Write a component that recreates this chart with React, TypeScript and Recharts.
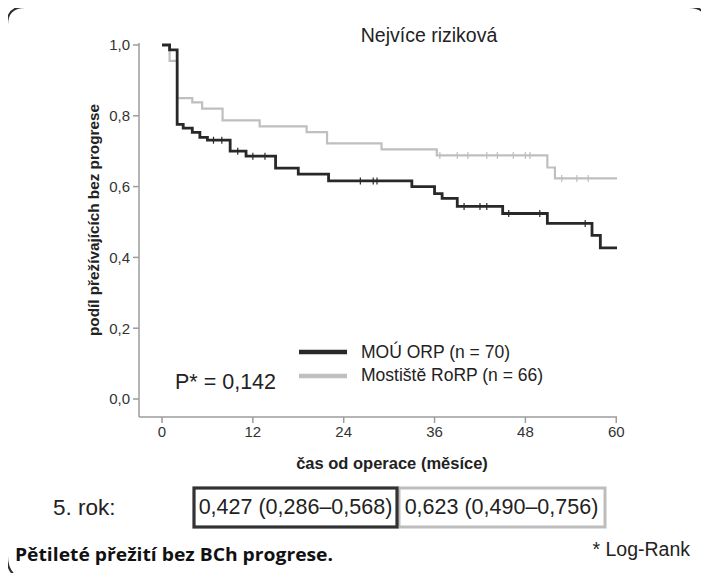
import React from "react";
import { ComposedChart, Line, XAxis, YAxis } from "recharts";

// Kaplan-Meier steps: [month, survival]
const orpTimes = [0, 1.0, 2.0, 2.8, 4.0, 5.0, 6.0, 9.0, 11.1, 15.0, 18.0, 22.0, 33.0, 36.0, 37.0, 39.0, 45.0, 50.9, 56.8, 57.9, 60.2];
const orpSurv = [1.0, 0.986, 0.776, 0.765, 0.753, 0.739, 0.731, 0.70, 0.686, 0.652, 0.635, 0.616, 0.60, 0.58, 0.567, 0.544, 0.524, 0.496, 0.462, 0.427, 0.427];
const orpCensor = [6.8, 7.9, 10.0, 12.0, 13.6, 26.2, 27.9, 28.4, 39.9, 42.0, 42.9, 45.8, 49.9, 55.9];

const rorpTimes = [0, 1.0, 2.0, 4.0, 5.3, 8.0, 12.9, 19.1, 21.8, 29.0, 36.3, 50.9, 51.9, 60.2];
const rorpSurv = [1.0, 0.955, 0.85, 0.838, 0.82, 0.787, 0.77, 0.754, 0.722, 0.705, 0.688, 0.654, 0.623, 0.623];
const rorpCensor = [36.7, 39.0, 40.4, 42.9, 44.3, 46.4, 48.0, 48.6, 52.8, 54.8, 56.3];

const xTicks = [0, 12, 24, 36, 48, 60];
const yTicks = [0, 0.2, 0.4, 0.6, 0.8, 1.0];

const seriesNames = ["MOÚ ORP (n = 70)", "Mostiště RoRP (n = 66)"];
const fiveYear = ["0,427 (0,286–0,568)", "0,623 (0,490–0,756)"];
const pValue = "P* = 0,142";

function build(times: number[], surv: number[], censor: number[]) {
  const pts = times.map((t, i) => ({ t, s: surv[i], c: false }));
  const at = (t: number) => {
    let v = surv[0];
    for (let i = 0; i < times.length; i++) if (times[i] <= t) v = surv[i];
    return v;
  };
  censor.forEach((t) => pts.push({ t, s: at(t), c: true }));
  pts.sort((a, b) => a.t - b.t || (a.c ? 1 : -1));
  return pts;
}

const orpData = build(orpTimes, orpSurv, orpCensor);
const rorpData = build(rorpTimes, rorpSurv, rorpCensor);

const BLACK = "#282828";
const GRAY = "#bfbfbf";
const AXIS = "#9c9c9c";
const FONT = "'Liberation Sans', Arial, sans-serif";

const censorDot = (color: string) => (props: any) => {
  const { cx, cy, payload, key } = props;
  if (!payload || !payload.c) return <g key={key} />;
  return <line key={key} x1={cx} x2={cx} y1={cy - 3.5} y2={cy + 3.5} stroke={color} strokeWidth={1.2} />;
};

export default function App() {
  return (
    <div style={{ position: "relative", width: 709, height: 581, margin: -8, overflow: "hidden", background: "#fff" }}>
      <div style={{ position: "absolute", left: 0, top: 0 }}>
        <ComposedChart width={709} height={581} margin={{ top: 43, right: 92, left: 99, bottom: 134 }}>
          <XAxis
            dataKey="t"
            type="number"
            domain={[-3.04, 60.1]}
            ticks={xTicks}
            allowDataOverflow
            height={30}
            tickSize={6}
            tickMargin={3}
            axisLine={{ stroke: AXIS, strokeWidth: 1.5 }}
            tickLine={{ stroke: AXIS, strokeWidth: 1.5 }}
            tick={{ fill: "#333", fontSize: 15, fontFamily: FONT }}
          />
          <YAxis
            type="number"
            domain={[-0.0508, 1.0056]}
            ticks={yTicks}
            allowDataOverflow
            width={40}
            tickSize={6}
            tickMargin={3}
            axisLine={{ stroke: AXIS, strokeWidth: 1.5 }}
            tickLine={{ stroke: AXIS, strokeWidth: 1.5 }}
            tick={{ fill: "#333", fontSize: 15, fontFamily: FONT }}
            tickFormatter={(v: number) => v.toFixed(1).replace(".", ",")}
          />
          <Line
            data={rorpData}
            dataKey="s"
            type="stepAfter"
            stroke={GRAY}
            strokeWidth={2.2}
            dot={censorDot(GRAY)}
            activeDot={false}
            isAnimationActive={false}
          />
          <Line
            data={orpData}
            dataKey="s"
            type="stepAfter"
            stroke={BLACK}
            strokeWidth={2.8}
            dot={censorDot(BLACK)}
            activeDot={false}
            isAnimationActive={false}
          />
        </ComposedChart>
      </div>
      <svg width={709} height={581} style={{ position: "absolute", left: 0, top: 0, pointerEvents: "none" }}>
        <path
          d="M 32 580 Q 7 580 7 556 L 7 25 Q 7 7 25 7 L 689 7 Q 707 7 707 25"
          fill="none"
          stroke="#2e2e2e"
          strokeWidth={2}
        />
        <text x={429} y={35} textAnchor="middle" dominantBaseline="central" fontFamily={FONT} fontSize={19.5} fill="#222">
          Nejvíce riziková
        </text>
        <text
          transform="translate(93,220) rotate(-90)"
          textAnchor="middle"
          dominantBaseline="central"
          fontFamily={FONT}
          fontSize={15.3}
          fontWeight="bold"
          fill="#222"
        >
          podíl přežívajících bez progrese
        </text>
        <text x={392} y={463} textAnchor="middle" dominantBaseline="central" fontFamily={FONT} fontSize={16.5} fontWeight="bold" fill="#222">
          čas od operace (měsíce)
        </text>
        <line x1={299} x2={347} y1={352} y2={352} stroke={BLACK} strokeWidth={4.5} />
        <text x={361} y={352} dominantBaseline="central" fontFamily={FONT} fontSize={17.5} fill="#222">
          {seriesNames[0]}
        </text>
        <line x1={299} x2={347} y1={376} y2={376} stroke={GRAY} strokeWidth={4.5} />
        <text x={361} y={375} dominantBaseline="central" fontFamily={FONT} fontSize={17.5} fill="#222">
          {seriesNames[1]}
        </text>
        <text x={175} y={382} dominantBaseline="central" fontFamily={FONT} fontSize={21.5} fill="#222">
          {pValue}
        </text>
        <text x={53} y={507} dominantBaseline="central" fontFamily={FONT} fontSize={22.5} fill="#222">
          5. rok:
        </text>
        <rect x={399} y={488} width={206} height={39} fill="none" stroke="#bdbdbd" strokeWidth={3} />
        <rect x={194} y={488} width={203} height={39} fill="none" stroke="#333" strokeWidth={3.2} />
        <text x={295.5} y={507} textAnchor="middle" dominantBaseline="central" fontFamily={FONT} fontSize={21.5} fill="#222">
          {fiveYear[0]}
        </text>
        <text x={501.5} y={507} textAnchor="middle" dominantBaseline="central" fontFamily={FONT} fontSize={21.5} fill="#222">
          {fiveYear[1]}
        </text>
        <text
          x={15}
          y={553}
          dominantBaseline="central"
          fontFamily="'Open Sans', sans-serif"
          fontSize={18.5}
          fontWeight="bold"
          fill="#111"
          textLength={318}
          lengthAdjust="spacingAndGlyphs"
        >
          Pětileté přežití bez BCh progrese.
        </text>
        <text x={690} y={549} textAnchor="end" dominantBaseline="central" fontFamily={FONT} fontSize={19.5} fill="#222">
          * Log-Rank
        </text>
      </svg>
    </div>
  );
}
